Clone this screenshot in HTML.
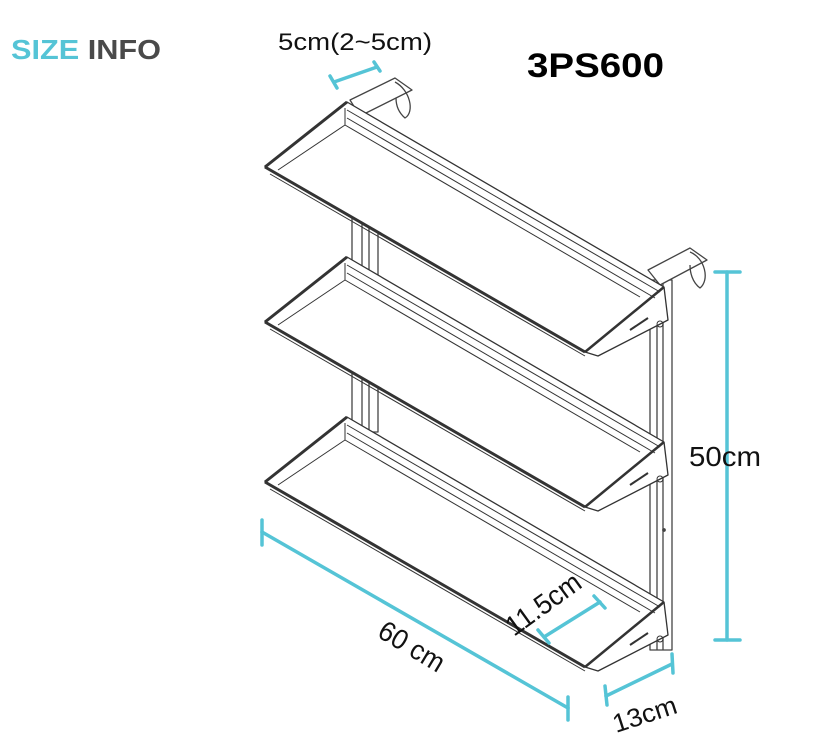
<!DOCTYPE html>
<html><head><meta charset="utf-8"><style>
html,body{margin:0;padding:0;background:#fff;}
svg{display:block;}
text{font-family:"Liberation Sans","DejaVu Sans",sans-serif;}
</style></head><body>
<svg width="826" height="739" viewBox="0 0 826 739" xmlns="http://www.w3.org/2000/svg">
<rect width="826" height="739" fill="#fff"/>
<text x="11" y="59" font-size="28" fill="#55c4d6" font-weight="bold" textLength="150" lengthAdjust="spacingAndGlyphs">SIZE <tspan fill="#4a4a4a">INFO</tspan></text>
<text x="278" y="50" font-size="24" fill="#111" textLength="154" lengthAdjust="spacingAndGlyphs">5cm(2~5cm)</text>
<text x="527" y="77" font-size="34" font-weight="bold" fill="#000" textLength="137" lengthAdjust="spacingAndGlyphs">3PS600</text>

<g fill="none" stroke="#444" stroke-width="1.3" stroke-linejoin="round">
<rect x="352" y="215" width="26" height="60" fill="#fff"/>
<line x1="362" y1="215" x2="362" y2="275"/><line x1="369" y1="215" x2="369" y2="275"/>
<rect x="352" y="372" width="26" height="60" fill="#fff"/>
<line x1="362" y1="372" x2="362" y2="432"/><line x1="369" y1="372" x2="369" y2="432"/>
<rect x="650" y="280" width="22" height="370" fill="#fff"/>
<line x1="657" y1="280" x2="657" y2="650"/><line x1="663" y1="280" x2="663" y2="650"/>
<circle cx="664" cy="530" r="1.2" fill="#444"/>
<path d="M350,100 L395,78 L412,90 L360,116 Z" fill="#fff"/>
<path d="M395,82 C410,90 415,112 405,118 C398,112 396,104 396,98"/>
<path d="M648,270 L690,248 L707,260 L660,285 Z" fill="#fff"/>
<path d="M690,252 C705,258 710,280 700,288 C692,282 690,272 690,265"/>
</g>

<g fill="none" stroke="#333" stroke-linejoin="round">
<g>
<path d="M265,167 L347,102 L664,287 L668,320 L598,356 L585,352 Z" fill="#fff" stroke-width="1.3"/>
<line x1="265" y1="167" x2="347" y2="102" stroke-width="3"/>
<line x1="265" y1="167" x2="585" y2="352" stroke-width="3"/>
<line x1="270" y1="174" x2="585" y2="356" stroke-width="1"/>
<line x1="347" y1="110" x2="660" y2="292" stroke-width="1"/>
<line x1="347" y1="118" x2="655" y2="298" stroke-width="1"/>
<line x1="345" y1="125" x2="640" y2="297" stroke-width="1"/>
<line x1="345" y1="125" x2="278" y2="170" stroke-width="1"/>
<line x1="345" y1="108" x2="345" y2="125" stroke-width="1"/>
<line x1="664" y1="287" x2="585" y2="352" stroke-width="2.5"/>
<circle cx="660" cy="324" r="3" stroke-width="1"/>
<line x1="630" y1="330" x2="648" y2="318" stroke-width="2"/>
</g>
<g transform="translate(0,155)">
<path d="M265,167 L347,102 L664,287 L668,320 L598,356 L585,352 Z" fill="#fff" stroke-width="1.3"/>
<line x1="265" y1="167" x2="347" y2="102" stroke-width="3"/>
<line x1="265" y1="167" x2="585" y2="352" stroke-width="3"/>
<line x1="270" y1="174" x2="585" y2="356" stroke-width="1"/>
<line x1="347" y1="110" x2="660" y2="292" stroke-width="1"/>
<line x1="347" y1="118" x2="655" y2="298" stroke-width="1"/>
<line x1="345" y1="125" x2="640" y2="297" stroke-width="1"/>
<line x1="345" y1="125" x2="278" y2="170" stroke-width="1"/>
<line x1="345" y1="108" x2="345" y2="125" stroke-width="1"/>
<line x1="664" y1="287" x2="585" y2="352" stroke-width="2.5"/>
<circle cx="660" cy="324" r="3" stroke-width="1"/>
<line x1="630" y1="330" x2="648" y2="318" stroke-width="2"/>
</g>
<g transform="translate(0,315)">
<path d="M265,167 L347,102 L664,287 L668,320 L598,356 L585,352 Z" fill="#fff" stroke-width="1.3"/>
<line x1="265" y1="167" x2="347" y2="102" stroke-width="3"/>
<line x1="265" y1="167" x2="585" y2="352" stroke-width="3"/>
<line x1="270" y1="174" x2="585" y2="356" stroke-width="1"/>
<line x1="347" y1="110" x2="660" y2="292" stroke-width="1"/>
<line x1="347" y1="118" x2="655" y2="298" stroke-width="1"/>
<line x1="345" y1="125" x2="640" y2="297" stroke-width="1"/>
<line x1="345" y1="125" x2="278" y2="170" stroke-width="1"/>
<line x1="345" y1="108" x2="345" y2="125" stroke-width="1"/>
<line x1="664" y1="287" x2="585" y2="352" stroke-width="2.5"/>
<circle cx="660" cy="324" r="3" stroke-width="1"/>
<line x1="630" y1="330" x2="648" y2="318" stroke-width="2"/>
</g>
</g>

<g stroke="#55c4d6" stroke-width="3.5" fill="none" stroke-linecap="round">
<line x1="334" y1="82" x2="377" y2="67"/>
<line x1="330" y1="76" x2="337" y2="88"/><line x1="374" y1="62" x2="380" y2="71"/>
<line x1="262" y1="532" x2="568" y2="708"/>
<line x1="262" y1="520" x2="262" y2="545"/><line x1="568" y1="697" x2="568" y2="720"/>
<line x1="606" y1="696" x2="672" y2="664"/>
<line x1="605" y1="686" x2="607" y2="705"/><line x1="672" y1="654" x2="673" y2="673"/>
<line x1="727" y1="272" x2="727" y2="640"/>
<line x1="715" y1="272" x2="740" y2="272"/><line x1="715" y1="640" x2="740" y2="640"/>
<line x1="544" y1="637" x2="600" y2="602"/>
<line x1="538" y1="630" x2="549" y2="643"/><line x1="594" y1="596" x2="605" y2="608"/>
</g>

<rect x="502" y="585" width="0" height="0"/>
<text x="689" y="466" font-size="28" fill="#111" textLength="72" lengthAdjust="spacingAndGlyphs">50cm</text>
<text transform="translate(376,636) rotate(31)" font-size="28" fill="#111" textLength="72" lengthAdjust="spacingAndGlyphs">60 cm</text>
<text transform="translate(514,637) rotate(-36)" font-size="28" fill="#111" textLength="86" lengthAdjust="spacingAndGlyphs">11.5cm</text>
<text transform="translate(616,733) rotate(-18)" font-size="26" fill="#111" textLength="66" lengthAdjust="spacingAndGlyphs">13cm</text>
</svg>
</body></html>
